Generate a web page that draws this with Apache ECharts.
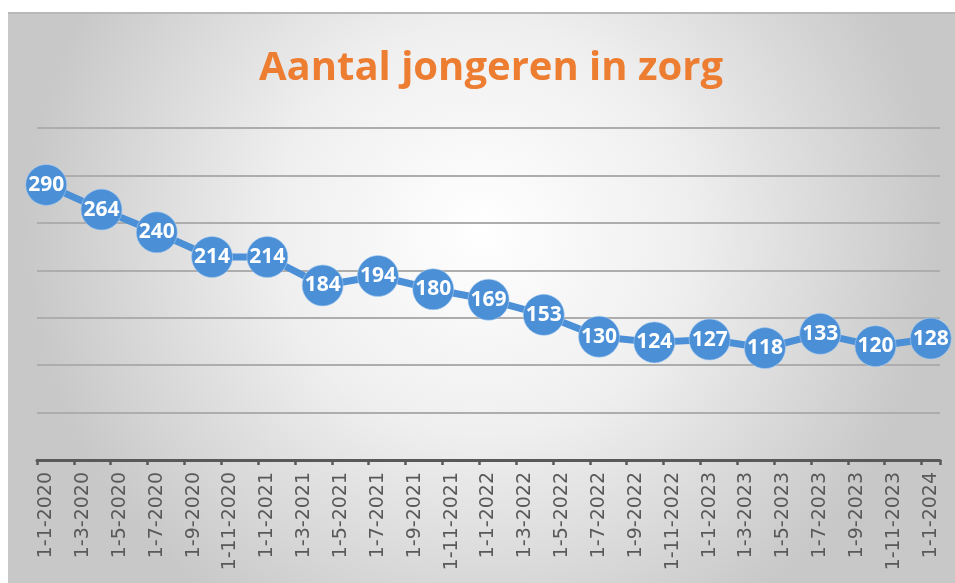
<!DOCTYPE html>
<html>
<head>
<meta charset="utf-8">
<script src="https://cdn.jsdelivr.net/npm/echarts@6/dist/echarts.min.js"></script>
<style>
html,body{margin:0;padding:0;background:#ffffff;}
#chart{width:955px;height:583px;}
</style>
</head>
<body>
<div id="chart"></div>
<script>
// Monthly category axis (labels every 2 months)
var months = [
  '1-1-2020','1-2-2020','1-3-2020','1-4-2020','1-5-2020','1-6-2020','1-7-2020','1-8-2020','1-9-2020','1-10-2020','1-11-2020','1-12-2020',
  '1-1-2021','1-2-2021','1-3-2021','1-4-2021','1-5-2021','1-6-2021','1-7-2021','1-8-2021','1-9-2021','1-10-2021','1-11-2021','1-12-2021',
  '1-1-2022','1-2-2022','1-3-2022','1-4-2022','1-5-2022','1-6-2022','1-7-2022','1-8-2022','1-9-2022','1-10-2022','1-11-2022','1-12-2022',
  '1-1-2023','1-2-2023','1-3-2023','1-4-2023','1-5-2023','1-6-2023','1-7-2023','1-8-2023','1-9-2023','1-10-2023','1-11-2023','1-12-2023',
  '1-1-2024'
];
// Quarterly measurement dates
var dates = [
  '1-1-2020','1-4-2020','1-7-2020','1-10-2020',
  '1-1-2021','1-4-2021','1-7-2021','1-10-2021',
  '1-1-2022','1-4-2022','1-7-2022','1-10-2022',
  '1-1-2023','1-4-2023','1-7-2023','1-10-2023',
  '1-1-2024'
];
var values = [290,264,240,214,214,184,194,180,169,153,130,124,127,118,133,120,128];
var titleText = 'Aantal jongeren in zorg';

var seriesData = dates.map(function(d, i){ return [d, values[i]]; });

var chart = echarts.init(document.getElementById('chart'), null, {renderer:'canvas'});
chart.setOption({
  animation: false,
  backgroundColor: '#ffffff',
  graphic: [
    {
      type: 'rect', z: -10, silent: true,
      shape: {x: 8, y: 13, width: 947, height: 570},
      style: {
        fill: {
          type: 'radial', x: 0.5, y: 0.38, r: 0.8,
          colorStops: [
            {offset: 0, color: '#ffffff'},
            {offset: 0.45, color: '#efefef'},
            {offset: 1, color: '#c8c8c8'}
          ]
        }
      }
    },
    {
      type: 'rect', z: -9, silent: true,
      shape: {x: 8, y: 12, width: 947, height: 2},
      style: {fill: '#b8b8b8'}
    },
    {
      type: 'text', z: 10,
      x: 491, y: 69,
      style: {
        text: titleText,
        fill: '#ED7D31',
        font: 'bold 40px "Open Sans"',
        textAlign: 'center',
        textVerticalAlign: 'middle'
      }
    }
  ],
  grid: {left: 37, right: 15, top: 128, bottom: 123, containLabel: false},
  xAxis: {
    type: 'category',
    data: months,
    boundaryGap: true,
    axisLine: {show: true, lineStyle: {color: '#595959', width: 3}},
    axisTick: {show: true, interval: 1, length: 5, lineStyle: {color: '#595959', width: 2.5}},
    axisLabel: {
      interval: 1, rotate: 90, margin: 12,
      color: '#595959', fontFamily: 'DejaVu Sans', fontSize: 19
    },
    splitLine: {show: false}
  },
  yAxis: {
    type: 'value',
    min: 0, max: 350, interval: 50,
    axisLine: {show: false},
    axisTick: {show: false},
    axisLabel: {show: false},
    splitLine: {show: true, lineStyle: {color: '#adadad', width: 1.8}}
  },
  series: [{
    type: 'line',
    data: seriesData,
    symbol: 'circle',
    symbolSize: 41,
    showAllSymbol: true,
    lineStyle: {color: '#4B8FD7', width: 7},
    itemStyle: {color: '#4B8FD7', borderColor: 'rgba(170,205,240,0.6)', borderWidth: 1},
    label: {
      show: true, position: 'inside',
      color: '#ffffff', fontFamily: 'Open Sans', fontWeight: 'bold', fontSize: 21
    },
    labelLayout: {hideOverlap: false},
    z: 5
  }]
});
</script>
</body>
</html>
